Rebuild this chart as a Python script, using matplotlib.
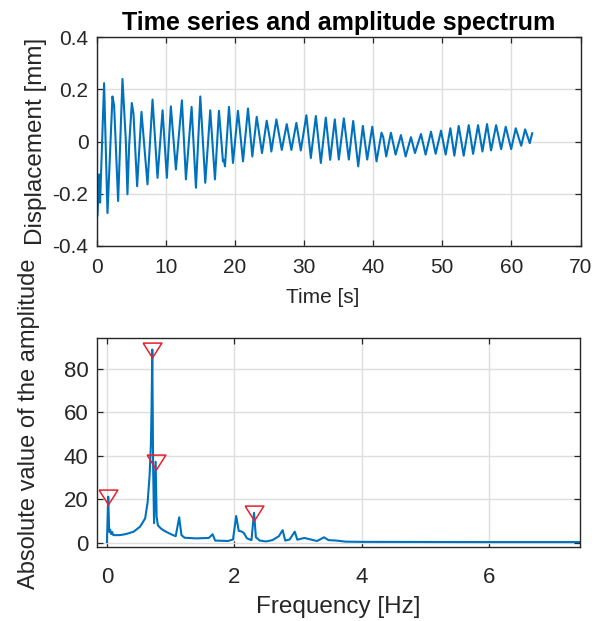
import matplotlib
matplotlib.use("Agg")
import matplotlib.pyplot as plt

# ---- data ----
time_s = [0.0, 0.1, 0.34, 0.48, 1.06, 1.55, 2.27, 2.51, 3.09, 3.72, 4.2, 4.44, 4.69,
          5.07, 5.31, 5.84, 6.47, 7.34, 8.07, 8.79, 9.52, 10.14, 10.72, 11.45,
          12.32, 12.9, 13.72, 14.35, 14.98, 15.7, 16.42, 17.1, 17.68, 18.26,
          18.4, 18.55, 19.13, 19.71, 20.43, 21.16, 21.88, 22.51, 23.14, 23.91,
          24.59, 25.07, 25.26, 25.99, 26.77, 27.49, 28.16, 28.88, 29.52, 30.33,
          30.97, 31.7, 32.42, 33.14, 33.77, 34.44, 35.02, 35.75, 36.47, 37.1,
          37.83, 38.5, 39.13, 39.86, 40.48, 41.2, 41.45, 41.88, 42.56, 43.24,
          44.01, 44.69, 45.46, 46.04, 46.91, 47.58, 48.36, 49.03, 49.81, 50.48,
          51.16, 51.74, 52.37, 53.09, 53.82, 54.45, 55.17, 55.8, 56.47, 57.05,
          57.78, 58.51, 59.17, 59.96, 60.62, 61.41, 61.98, 62.65, 63.0]
displacement_mm = [-0.08, -0.285, -0.126, -0.234, 0.224, -0.274, 0.173, 0.139, -0.228,
                   0.24, 0.006, -0.202, -0.013, 0.148, 0.108, -0.171, 0.114, -0.164,
                   0.161, -0.139, 0.12, -0.139, 0.135, -0.107, 0.158, -0.145, 0.133,
                   -0.177, 0.173, -0.158, 0.12, -0.145, 0.118, -0.076, -0.07, -0.095,
                   0.133, -0.082, 0.118, -0.076, 0.127, -0.057, 0.095, -0.044, 0.08,
                   0.006, -0.038, 0.085, -0.032, 0.067, -0.032, 0.072, -0.034, 0.101,
                   -0.063, 0.098, -0.082, 0.092, -0.07, 0.085, -0.069, 0.089, -0.069,
                   0.079, -0.095, 0.06, -0.069, 0.057, -0.076, 0.034, 0.017, -0.057,
                   0.034, -0.05, 0.025, -0.057, 0.017, -0.044, 0.029, -0.05, 0.038,
                   -0.047, 0.042, -0.05, 0.051, -0.054, 0.06, -0.054, 0.063, -0.047,
                   0.063, -0.038, 0.067, -0.034, 0.063, -0.029, 0.057, -0.029, 0.051,
                   -0.016, 0.047, -0.006, 0.032]

freq_hz = [0.0, 0.02, 0.035, 0.05, 0.065, 0.08, 0.10, 0.2, 0.3, 0.42, 0.52, 0.60,
           0.64, 0.67, 0.69, 0.70, 0.712, 0.725, 0.74, 0.765, 0.78, 0.80, 0.85, 0.9,
           1.0, 1.08, 1.135, 1.17, 1.22, 1.4, 1.6, 1.66, 1.7, 1.9, 1.98, 2.03, 2.07,
           2.12, 2.15, 2.2, 2.27, 2.31, 2.34, 2.4, 2.5, 2.6, 2.7, 2.76, 2.8, 2.87,
           2.95, 2.99, 3.1, 3.2, 3.3, 3.41, 3.48, 3.6, 3.75, 4.0, 5.0, 6.0, 7.0, 7.6]
amplitude = [0.3, 21.2, 5.0, 6.0, 4.0, 5.0, 3.5, 3.5, 4.0, 5.1, 7.4, 11.2, 18.9, 31.0,
             45.0, 60.0, 89.0, 36.0, 9.0, 37.3, 12.0, 8.0, 6.5, 5.5, 4.0, 3.0, 11.7,
             3.5, 2.3, 2.0, 2.2, 3.9, 1.0, 0.8, 1.5, 12.3, 5.5, 5.1, 4.5, 2.0, 1.2,
             13.8, 2.5, 1.0, 0.6, 1.2, 3.0, 5.8, 1.0, 1.5, 5.1, 1.4, 2.2, 1.5, 0.8,
             2.5, 1.2, 1.0, 0.5, 0.4, 0.35, 0.3, 0.3, 0.3]

peak_freq = [0.02, 0.712, 0.765, 2.31]
peak_amp = [21.2, 89.0, 37.3, 13.8]

# ---- style ----
plt.rcParams['font.family'] = ['Liberation Sans', 'DejaVu Sans']
line_color = '#0072BD'
ax_color = '#262626'
grid_color = '#dedede'
tri = [(-1.0, 0.79), (1.0, 0.79), (0.0, -0.79), (-1.0, 0.79)]

fig = plt.figure(figsize=(6.01, 6.21), dpi=100)
ax1 = fig.add_axes([0.161, 0.604, 0.805, 0.336])
ax2 = fig.add_axes([0.161, 0.1187, 0.804, 0.3366])


def style(ax, fs, xpad, ypad):
    for s in ax.spines.values():
        s.set_color(ax_color)
        s.set_linewidth(1.0)
    ax.tick_params(direction='in', length=4, width=0.9, colors=ax_color,
                   top=True, right=True, labelsize=fs)
    ax.tick_params(axis='x', pad=xpad)
    ax.tick_params(axis='y', pad=ypad)
    ax.grid(True, color=grid_color, linewidth=1.0)
    ax.set_axisbelow(True)


ax1.plot(time_s, displacement_mm, color=line_color, linewidth=1.5)
ax1.set_xlim(0, 70)
ax1.set_ylim(-0.4, 0.4)
ax1.set_xticks(range(0, 71, 10))
ax1.set_yticks([-0.4, -0.2, 0, 0.2, 0.4])
ax1.set_yticklabels(['-0.4', '-0.2', '0', '0.2', '0.4'])
style(ax1, 15, 9, 6)
ax1.set_xlabel('Time [s]', fontsize=15, color=ax_color, labelpad=1)
ax1.xaxis.set_label_coords(0.466, -0.2)
ax1.set_ylabel('Displacement [mm]', fontsize=17.5, color=ax_color, labelpad=4)
ax1.set_title('Time series and amplitude spectrum', fontsize=18,
              fontweight='bold', color='black', pad=5)

ax2.plot(freq_hz, amplitude, color=line_color, linewidth=1.5)
ax2.plot(peak_freq, peak_amp, linestyle='none', marker=tri, markersize=13.5,
         markerfacecolor='none', markeredgecolor='#E8202A', markeredgewidth=1.1)
ax2.set_xlim(-0.16, 7.43)
ax2.set_ylim(-2.1, 94.2)
ax2.set_xticks([0, 2, 4, 6])
ax2.set_yticks([0, 20, 40, 60, 80])
style(ax2, 16, 14, 6)
ax2.set_xlabel('Frequency [Hz]', fontsize=17.5, color=ax_color, labelpad=6)
ax2.set_ylabel('Absolute value of the amplitude', fontsize=17, color=ax_color)
ax2.yaxis.set_label_coords(-0.118, 0.59)

fig.savefig('out.png', dpi=100, facecolor='white')
